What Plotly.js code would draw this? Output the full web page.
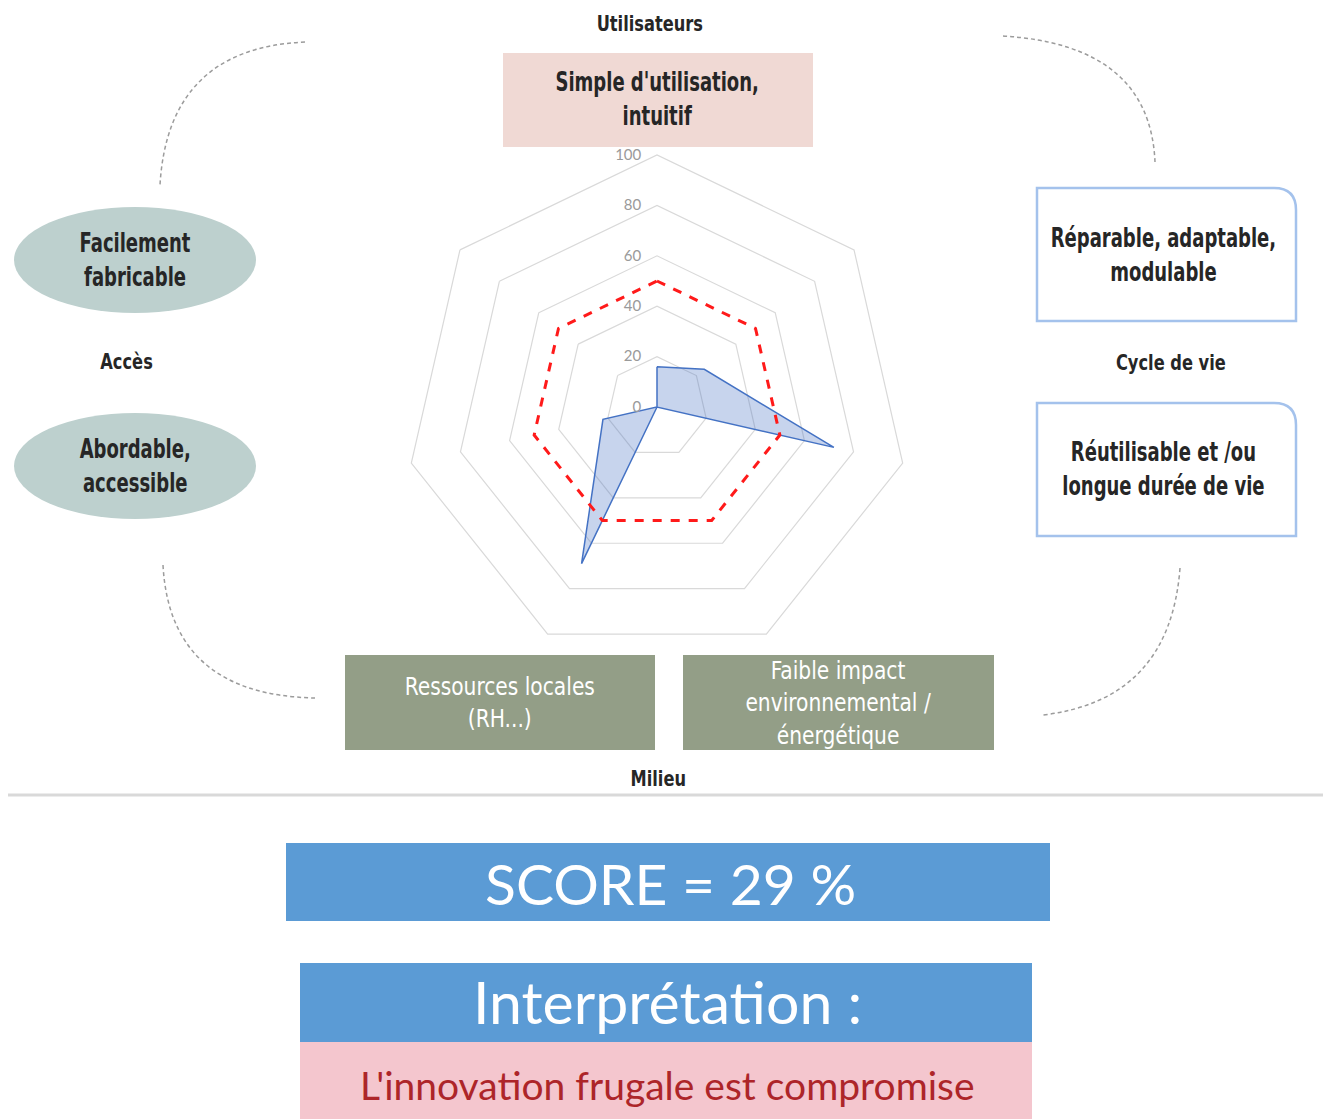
<!DOCTYPE html>
<html>
<head>
<meta charset="utf-8">
<script src="https://cdn.plot.ly/plotly-3.0.1.min.js"></script>
<style>html,body{margin:0;padding:0;background:#fff;}#chart{width:1323px;height:1119px;}</style>
<style id="narrowcss"></style>
</head>
<body>
<div id="chart"></div>
<script>
// ---- data ----
const criteria = [
  "Simple d'utilisation, intuitif",
  "Réparable, adaptable, modulable",
  "Réutilisable et /ou longue durée de vie",
  "Faible impact environnemental / énergétique",
  "Ressources locales (RH...)",
  "Abordable, accessible",
  "Facilement fabricable"
];
const scores = [16, 24, 72, 0, 69, 22, 0];
const threshold = [50, 50, 50, 50, 50, 50, 50];
const radialTicks = [0, 20, 40, 60, 80, 100];
const groupLabels = ["Utilisateurs", "Cycle de vie", "Milieu", "Accès"];
const scoreText = "SCORE = 29 %";
const interpTitle = "Interprétation :";
const interpText = "L'innovation frugale est compromise";

// ---- helpers ----
const W = 1323, H = 1119;
const X = p => p / W;
const Y = p => 1 - p / H;
const close = a => a.concat([a[0]]);
const NARROW = "DejaVu Sans Condensed, Liberation Sans Narrow, DejaVu Sans, sans-serif";
const BODY = "Lato, Open Sans, sans-serif";

const traces = [
  {
    type: "scatterpolar",
    r: close(scores),
    theta: close(criteria),
    mode: "lines",
    fill: "toself",
    fillcolor: "rgba(68,114,196,0.3)",
    line: {color: "#4472c4", width: 1.5},
    hoverinfo: "skip"
  },
  {
    type: "scatterpolar",
    r: close(threshold),
    theta: close(criteria),
    mode: "lines",
    line: {color: "#ff1a1a", width: 3, dash: "dash"},
    hoverinfo: "skip"
  }
];

function rectPx(x0, y0, x1, y1, fill, line) {
  return {type: "rect", xref: "paper", yref: "paper", x0: X(x0), x1: X(x1), y0: Y(y1), y1: Y(y0),
    fillcolor: fill, line: line || {width: 0}, layer: "below"};
}
function ellipsePx(cx, cy, rx, ry, fill) {
  return {type: "circle", xref: "paper", yref: "paper", x0: X(cx - rx), x1: X(cx + rx), y0: Y(cy + ry), y1: Y(cy - ry),
    fillcolor: fill, line: {width: 0}, layer: "below"};
}
function arcPx(x0, y0, cx, cy, x1, y1) {
  return {type: "path", xref: "paper", yref: "paper",
    path: `M ${X(x0)} ${Y(y0)} Q ${X(cx)} ${Y(cy)} ${X(x1)} ${Y(y1)}`,
    line: {color: "#9c9c9c", width: 1.5, dash: "4px,3px"}, layer: "below"};
}
function roundBoxPx(x0, y0, x1, y1, r) {
  const p = `M ${X(x0)} ${Y(y0)} L ${X(x1 - r)} ${Y(y0)} Q ${X(x1)} ${Y(y0)} ${X(x1)} ${Y(y0 + r)} L ${X(x1)} ${Y(y1)} L ${X(x0)} ${Y(y1)} Z`;
  return {type: "path", xref: "paper", yref: "paper", path: p, fillcolor: "#ffffff",
    line: {color: "#a4c2ec", width: 2.5}, layer: "below"};
}
// scale: horizontal compression applied to condensed texts afterwards
const narrowScale = [];
function textPx(x, y, text, size, color, family, weight, scale) {
  narrowScale.push(scale || 1);
  return {xref: "paper", yref: "paper", x: X(x), y: Y(y), text: text, showarrow: false,
    xanchor: "center", yanchor: "middle", align: "center",
    font: {size: size, color: color, family: family || NARROW, weight: weight || "normal"}};
}

const shapes = [
  rectPx(503, 53, 813, 147, "#f0d9d4"),
  ellipsePx(135, 260, 121, 53, "#bdd0ce"),
  ellipsePx(135, 466, 121, 53, "#bdd0ce"),
  roundBoxPx(1037, 188, 1296, 321, 22),
  roundBoxPx(1037, 403, 1296, 536, 22),
  rectPx(345, 655, 655, 750, "#939e87"),
  rectPx(683, 655, 994, 750, "#939e87"),
  arcPx(305, 42, 168, 48, 160, 185),
  arcPx(1003, 36, 1150, 45, 1155, 162),
  arcPx(163, 565, 170, 695, 315, 698),
  arcPx(1180, 568, 1170, 700, 1043, 715),
  {type: "line", xref: "paper", yref: "paper", x0: X(8), x1: X(1323), y0: Y(795), y1: Y(795),
    line: {color: "#d9d9d9", width: 3}},
  rectPx(286, 843, 1050, 921, "#5b9bd5"),
  rectPx(300, 963, 1032, 1042, "#5b9bd5"),
  rectPx(300, 1042, 1032, 1119, "#f4c6ce")
];

const DARK = "#262626";
const annotations = [
  textPx(650, 24, groupLabels[0], 21, DARK, NARROW, "bold", 0.86),
  textPx(657, 99, "Simple d'utilisation,<br>intuitif", 26, DARK, NARROW, "bold", 0.77),
  textPx(135, 260, "Facilement<br>fabricable", 26, DARK, NARROW, "bold", 0.77),
  textPx(126, 362, groupLabels[3], 21, DARK, NARROW, "bold", 0.86),
  textPx(135, 466, "Abordable,<br>accessible", 26, DARK, NARROW, "bold", 0.77),
  textPx(1163, 255, "Réparable, adaptable,<br>modulable", 26, DARK, NARROW, "bold", 0.77),
  textPx(1171, 363, groupLabels[1], 21, DARK, NARROW, "bold", 0.86),
  textPx(1163, 469, "Réutilisable et /ou<br>longue durée de vie", 26, DARK, NARROW, "bold", 0.77),
  textPx(500, 703, "Ressources locales<br>(RH...)", 25, "#ffffff", NARROW, "normal", 0.9),
  textPx(838, 703, "Faible impact<br>environnemental /<br>énergétique", 25, "#ffffff", NARROW, "normal", 0.9),
  textPx(658, 779, groupLabels[2], 21, DARK, NARROW, "bold", 0.86),
  textPx(670, 883, scoreText, 57, "#ffffff", BODY),
  textPx(667, 1001, interpTitle, 59, "#ffffff", BODY),
  textPx(667, 1085, interpText, 39, "#ad2529", BODY)
];

// css horizontal compression for condensed labels
document.getElementById("narrowcss").textContent = narrowScale.map((s, i) => s === 1 ? "" :
  `g.annotation[data-index="${i}"] text.annotation-text{transform-box:fill-box;transform-origin:center;transform:scaleX(${s});}`).join("\n");

const layout = {
  width: W, height: H,
  margin: {l: 0, r: 0, t: 0, b: 0},
  paper_bgcolor: "#ffffff",
  showlegend: false,
  polar: {
    domain: {x: [X(405), X(909)], y: [Y(659), Y(155)]},
    bgcolor: "rgba(0,0,0,0)",
    gridshape: "linear",
    angularaxis: {
      direction: "clockwise", rotation: 90,
      showticklabels: false, ticks: "",
      showgrid: false, showline: true, linecolor: "#d9d9d9", linewidth: 1.2
    },
    radialaxis: {
      range: [0, 100], tickvals: radialTicks, angle: 90, side: "counterclockwise",
      tickangle: 90, showline: false, ticks: "outside", ticklen: 10, tickcolor: "rgba(0,0,0,0)",
      gridcolor: "#d9d9d9", gridwidth: 1.2,
      tickfont: {size: 15, color: "#9a9a9a", family: "Lato, Liberation Sans, sans-serif"}
    }
  },
  shapes: shapes,
  annotations: annotations
};

Plotly.newPlot("chart", traces, layout, {displayModeBar: false, staticPlot: true});
</script>
</body>
</html>
